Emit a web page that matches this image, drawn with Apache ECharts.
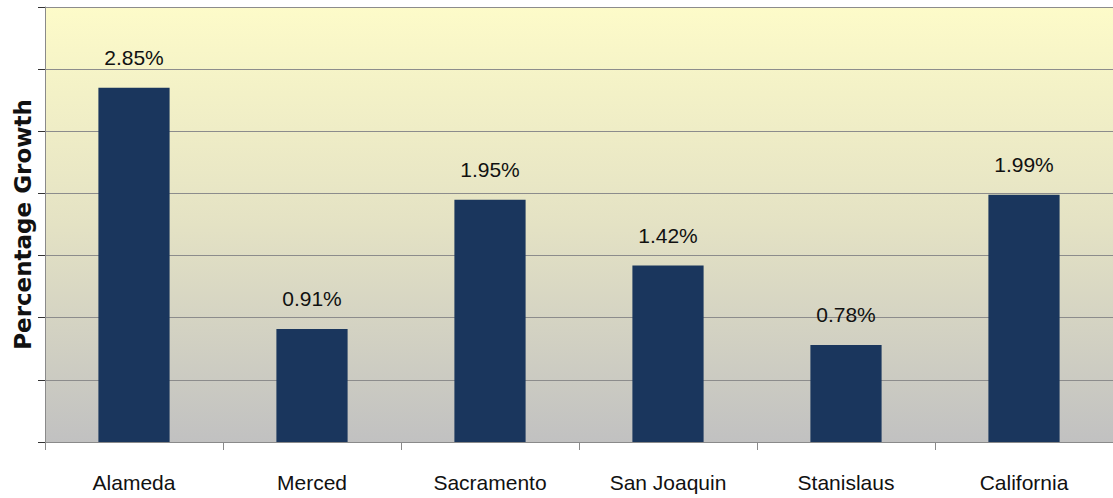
<!DOCTYPE html>
<html>
<head>
<meta charset="utf-8">
<script src="https://cdn.jsdelivr.net/npm/echarts@6/dist/echarts.min.js"></script>
<style>
  html, body { margin: 0; padding: 0; background: #fff; }
  #chart { width: 1113px; height: 498px; }
</style>
</head>
<body>
<div id="chart"></div>
<script>
var categories = ['Alameda', 'Merced', 'Sacramento', 'San Joaquin', 'Stanislaus', 'California'];
var growth = [2.85, 0.91, 1.95, 1.42, 0.78, 1.99];

(function() {
  var font = "'Liberation Sans Narrow', 'Liberation Sans', sans-serif";
  var chart = echarts.init(document.getElementById('chart'), null, { renderer: 'svg' });

  chart.setOption({
    animation: false,
    grid: {
      left: 45, right: 0, top: 7, bottom: 56,
      outerBoundsMode: 'none',
      containLabel: false,
      show: true,
      borderWidth: 0,
      backgroundColor: new echarts.graphic.LinearGradient(0, 0, 0, 1, [
        { offset: 0, color: '#fdfbc9' },
        { offset: 0.5, color: '#e4e2c4' },
        { offset: 1, color: '#c1c1c1' }
      ])
    },
    xAxis: {
      type: 'category',
      data: categories,
      axisLine: { lineStyle: { color: '#8a8a8a', width: 1 } },
      axisTick: { show: true, alignWithLabel: false, length: 8, lineStyle: { color: '#8a8a8a' } },
      axisLabel: { color: '#111', fontSize: 21, fontFamily: font, margin: 30 }
    },
    yAxis: {
      type: 'value',
      min: 0, max: 3.5, interval: 0.5,
      name: 'Percentage Growth',
      nameLocation: 'middle',
      nameGap: 11,
      nameTextStyle: { color: '#111', fontSize: 23, fontWeight: 'bold', fontFamily: "'DejaVu Sans', sans-serif" },
      axisLine: { show: true, lineStyle: { color: '#8a8a8a' } },
      axisTick: { show: true, inside: false, length: 7, lineStyle: { color: '#333' } },
      axisLabel: { show: false },
      splitLine: { lineStyle: { color: '#8c8c8c', width: 1 } }
    },
    series: [{
      type: 'bar',
      data: growth,
      barWidth: '40%',
      itemStyle: { color: '#1a365d' },
      label: {
        show: true,
        position: 'top',
        distance: 20,
        color: '#111',
        fontSize: 21,
        fontFamily: font,
        formatter: function(p) { return p.value.toFixed(2) + '%'; }
      }
    }]
  });
  window.addEventListener('resize', function() { chart.resize(); });
})();
</script>
</body>
</html>
